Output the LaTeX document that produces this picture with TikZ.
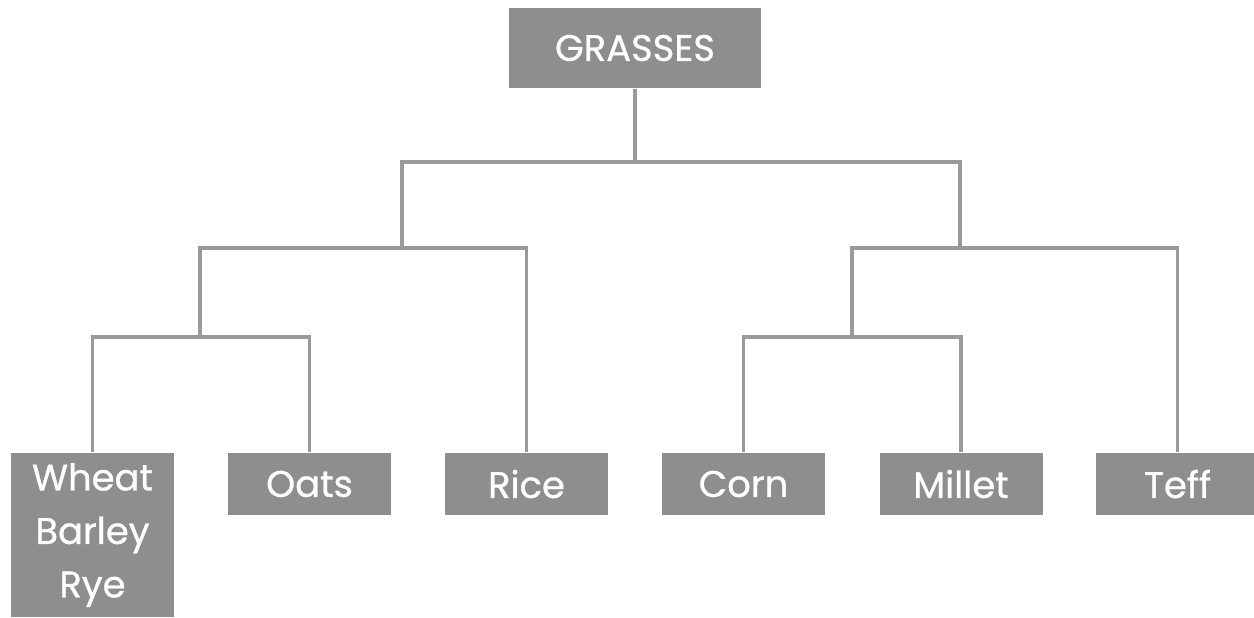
\documentclass[tikz,border=0pt]{standalone}
\usepackage{fontspec}
\setmainfont{Poppins}[BoldFont=Poppins, BoldFeatures={FakeBold=0.8}]
\definecolor{boxgray}{HTML}{8E8E8E}
\definecolor{linegray}{HTML}{9A9A9A}
\begin{document}
\begin{tikzpicture}[
    grain/.style={fill=boxgray, text=white, minimum width=1.63cm, minimum height=0.62cm,
        inner sep=0pt, font=\fontsize{10.5}{15.2}\selectfont\bfseries, align=center},
    branch/.style={draw=linegray, line width=1pt}
]
    \useasboundingbox (0,0) rectangle (12.54,6.17);
    \node[grain, minimum width=2.52cm, minimum height=0.80cm] (grasses) at (6.35,5.69) {GRASSES};
    
    % Bottom row
    \node[grain, minimum height=1.64cm] (wheat) at (0.925,0.82) {Wheat\\Barley\\Rye};
    \node[grain] (oats) at (3.095,1.33) {Oats};
    \node[grain] (rice) at (5.265,1.33) {Rice};
    \node[grain] (corn) at (7.435,1.33) {Corn};
    \node[grain] (millet) at (9.61,1.33) {Millet};
    \node[grain] (teff) at (11.775,1.33) {Teff};
    
    % Junctions
    \coordinate (top) at (6.35,4.55);
    \coordinate (left) at (4.02,3.69);
    \coordinate (right) at (9.60,3.69);
    \coordinate (leftleft) at (2.00,2.80);
    \coordinate (rightleft) at (8.52,2.80);
    
    \draw[branch] (grasses) -- (top);
    \draw[branch] (left) |- (top) -| (right);
    \draw[branch] (leftleft) |- (left) -| (rice.north);
    \draw[branch] (rightleft) |- (right) -| (teff.north);
    \draw[branch] (wheat.north) |- (leftleft) -| (oats.north);
    \draw[branch] (corn.north) |- (rightleft) -| (millet.north);
\end{tikzpicture}
\end{document}
